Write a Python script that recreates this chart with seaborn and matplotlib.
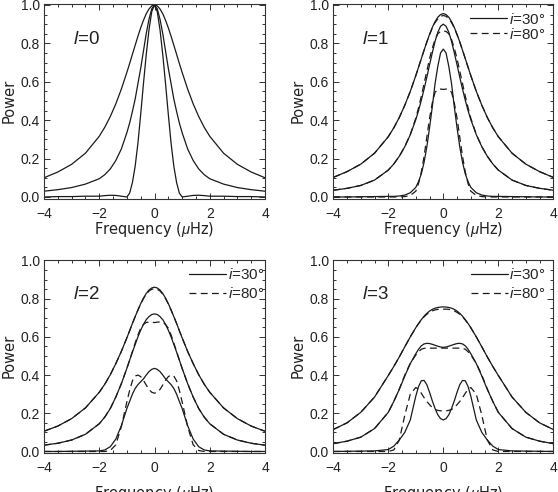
import matplotlib
matplotlib.use("Agg")
import matplotlib.pyplot as plt
import seaborn as sns
from matplotlib.ticker import MultipleLocator, FormatStrFormatter

# frequency grid (muHz) shared by every curve
freq = [-4.0, -3.5, -3.0, -2.5, -2.0, -1.8, -1.6, -1.4, -1.2, -1.0, -0.9, -0.8, -0.7, -0.6, -0.5, -0.4, -0.3, -0.2, -0.1,
        0.0, 0.1, 0.2, 0.3, 0.4, 0.5, 0.6, 0.7, 0.8, 0.9, 1.0, 1.2, 1.4, 1.6, 1.8, 2.0, 2.5, 3.0, 3.5, 4.0]

# l=0 (single curve per linewidth)
l0_wide = [0.100, 0.130, 0.170, 0.228, 0.316, 0.363, 0.419, 0.485, 0.562, 0.649, 0.695, 0.743, 0.790, 0.837, 0.881, 0.920, 0.954, 0.979, 0.995,
           1.000, 0.995, 0.979, 0.954, 0.920, 0.881, 0.837, 0.790, 0.743, 0.695, 0.649, 0.562, 0.485, 0.419, 0.363, 0.316, 0.228, 0.170, 0.130, 0.100]
l0_mid = [0.030, 0.038, 0.049, 0.067, 0.095, 0.116, 0.146, 0.190, 0.250, 0.335, 0.385, 0.445, 0.510, 0.590, 0.670, 0.760, 0.850, 0.925, 0.980,
          1.000, 0.980, 0.925, 0.850, 0.760, 0.670, 0.590, 0.510, 0.445, 0.385, 0.335, 0.250, 0.190, 0.146, 0.116, 0.095, 0.067, 0.049, 0.038, 0.030]
l0_narrow = [0.000, 0.002, 0.002, 0.004, 0.004, 0.007, 0.009, 0.008, 0.004, 0.000, 0.020, 0.075, 0.160, 0.280, 0.430, 0.590, 0.740, 0.870, 0.965,
             1.000, 0.965, 0.870, 0.740, 0.590, 0.430, 0.280, 0.160, 0.075, 0.020, 0.000, 0.004, 0.008, 0.009, 0.007, 0.004, 0.004, 0.002, 0.002, 0.000]

# l=1, i=30 (solid) and i=80 (dashed)
l1_wide_30 = [0.102, 0.132, 0.171, 0.228, 0.314, 0.360, 0.414, 0.478, 0.550, 0.632, 0.676, 0.720, 0.764, 0.807, 0.847, 0.883, 0.913, 0.936, 0.950,
              0.955, 0.950, 0.936, 0.913, 0.883, 0.847, 0.807, 0.764, 0.720, 0.676, 0.632, 0.550, 0.478, 0.414, 0.360, 0.314, 0.228, 0.171, 0.132, 0.102]
l1_wide_80 = [0.102, 0.132, 0.171, 0.228, 0.314, 0.360, 0.414, 0.478, 0.550, 0.632, 0.676, 0.720, 0.764, 0.806, 0.845, 0.880, 0.908, 0.928, 0.941,
              0.945, 0.941, 0.928, 0.908, 0.880, 0.845, 0.806, 0.764, 0.720, 0.676, 0.632, 0.550, 0.478, 0.414, 0.360, 0.314, 0.228, 0.171, 0.132, 0.102]
l1_mid_30 = [0.035, 0.045, 0.060, 0.088, 0.140, 0.172, 0.212, 0.262, 0.324, 0.403, 0.450, 0.503, 0.561, 0.623, 0.688, 0.751, 0.810, 0.858, 0.889,
             0.900, 0.889, 0.858, 0.810, 0.751, 0.688, 0.623, 0.561, 0.503, 0.450, 0.403, 0.324, 0.262, 0.212, 0.172, 0.140, 0.088, 0.060, 0.045, 0.035]
l1_mid_80 = [0.035, 0.045, 0.060, 0.088, 0.140, 0.172, 0.212, 0.262, 0.326, 0.410, 0.465, 0.525, 0.590, 0.655, 0.720, 0.775, 0.820, 0.850, 0.862,
             0.865, 0.862, 0.850, 0.820, 0.775, 0.720, 0.655, 0.590, 0.525, 0.465, 0.410, 0.326, 0.262, 0.212, 0.172, 0.140, 0.088, 0.060, 0.045, 0.035]
l1_narrow_30 = [0.000, 0.000, 0.001, 0.002, 0.003, 0.003, 0.005, 0.010, 0.022, 0.050, 0.080, 0.120, 0.180, 0.260, 0.360, 0.470, 0.590, 0.680, 0.750,
                0.770, 0.750, 0.680, 0.590, 0.470, 0.360, 0.260, 0.180, 0.120, 0.080, 0.050, 0.022, 0.010, 0.005, 0.003, 0.003, 0.002, 0.001, 0.000, 0.000]
l1_narrow_80 = [0.000, 0.000, 0.000, 0.000, 0.000, 0.000, 0.000, 0.002, 0.008, 0.030, 0.070, 0.130, 0.210, 0.310, 0.410, 0.490, 0.545, 0.560, 0.562,
                0.560, 0.562, 0.560, 0.545, 0.490, 0.410, 0.310, 0.210, 0.130, 0.070, 0.030, 0.008, 0.002, 0.000, 0.000, 0.000, 0.000, 0.000, 0.000, 0.000]

# l=2
l2_wide_30 = [0.106, 0.133, 0.172, 0.228, 0.310, 0.352, 0.402, 0.460, 0.524, 0.595, 0.632, 0.670, 0.706, 0.741, 0.774, 0.803, 0.827, 0.845, 0.856,
              0.860, 0.856, 0.845, 0.827, 0.803, 0.774, 0.741, 0.706, 0.670, 0.632, 0.595, 0.524, 0.460, 0.402, 0.352, 0.310, 0.228, 0.172, 0.133, 0.106]
l2_wide_80 = [0.106, 0.133, 0.172, 0.228, 0.310, 0.352, 0.402, 0.460, 0.524, 0.595, 0.632, 0.670, 0.706, 0.740, 0.772, 0.800, 0.823, 0.840, 0.849,
              0.852, 0.849, 0.840, 0.823, 0.800, 0.772, 0.740, 0.706, 0.670, 0.632, 0.595, 0.524, 0.460, 0.402, 0.352, 0.310, 0.228, 0.172, 0.133, 0.106]
l2_mid_30 = [0.033, 0.043, 0.060, 0.090, 0.145, 0.180, 0.225, 0.285, 0.355, 0.435, 0.478, 0.520, 0.560, 0.600, 0.635, 0.665, 0.690, 0.706, 0.717,
             0.720, 0.717, 0.706, 0.690, 0.665, 0.635, 0.600, 0.560, 0.520, 0.478, 0.435, 0.355, 0.285, 0.225, 0.180, 0.145, 0.090, 0.060, 0.043, 0.033]
l2_mid_80 = [0.033, 0.043, 0.060, 0.090, 0.145, 0.180, 0.225, 0.285, 0.355, 0.435, 0.478, 0.523, 0.568, 0.610, 0.645, 0.665, 0.675, 0.678, 0.677,
             0.675, 0.677, 0.678, 0.675, 0.665, 0.645, 0.610, 0.568, 0.523, 0.478, 0.435, 0.355, 0.285, 0.225, 0.180, 0.145, 0.090, 0.060, 0.043, 0.033]
l2_narrow_30 = [0.000, 0.000, 0.001, 0.002, 0.003, 0.008, 0.025, 0.065, 0.135, 0.225, 0.262, 0.300, 0.330, 0.350, 0.365, 0.380, 0.400, 0.418, 0.430,
                0.435, 0.430, 0.418, 0.400, 0.380, 0.365, 0.350, 0.330, 0.300, 0.262, 0.225, 0.135, 0.065, 0.025, 0.008, 0.003, 0.002, 0.001, 0.000, 0.000]
l2_narrow_80 = [0.000, 0.000, 0.000, 0.000, 0.000, 0.000, 0.005, 0.035, 0.130, 0.260, 0.320, 0.370, 0.395, 0.400, 0.392, 0.372, 0.348, 0.325, 0.310,
                0.305, 0.310, 0.325, 0.348, 0.372, 0.392, 0.400, 0.395, 0.370, 0.320, 0.260, 0.130, 0.035, 0.005, 0.000, 0.000, 0.000, 0.000, 0.000, 0.000]

# l=3
l3_wide_30 = [0.115, 0.150, 0.205, 0.285, 0.398, 0.445, 0.495, 0.548, 0.600, 0.648, 0.670, 0.690, 0.708, 0.723, 0.735, 0.744, 0.750, 0.754, 0.756,
              0.757, 0.756, 0.754, 0.750, 0.744, 0.735, 0.723, 0.708, 0.690, 0.670, 0.648, 0.600, 0.548, 0.495, 0.445, 0.398, 0.285, 0.205, 0.150, 0.115]
l3_wide_80 = [0.115, 0.150, 0.205, 0.285, 0.398, 0.445, 0.495, 0.548, 0.600, 0.648, 0.669, 0.688, 0.705, 0.718, 0.728, 0.736, 0.741, 0.744, 0.745,
              0.745, 0.745, 0.744, 0.741, 0.736, 0.728, 0.718, 0.705, 0.688, 0.669, 0.648, 0.600, 0.548, 0.495, 0.445, 0.398, 0.285, 0.205, 0.150, 0.115]
l3_mid_30 = [0.041, 0.054, 0.075, 0.120, 0.205, 0.262, 0.325, 0.395, 0.460, 0.512, 0.535, 0.553, 0.563, 0.566, 0.565, 0.561, 0.556, 0.551, 0.547,
             0.545, 0.547, 0.551, 0.556, 0.561, 0.565, 0.566, 0.563, 0.553, 0.535, 0.512, 0.460, 0.395, 0.325, 0.262, 0.205, 0.120, 0.075, 0.054, 0.041]
l3_mid_80 = [0.041, 0.054, 0.075, 0.120, 0.205, 0.262, 0.327, 0.400, 0.462, 0.505, 0.522, 0.535, 0.540, 0.541, 0.541, 0.541, 0.541, 0.541, 0.541,
             0.541, 0.541, 0.541, 0.541, 0.541, 0.541, 0.541, 0.540, 0.535, 0.522, 0.505, 0.462, 0.400, 0.327, 0.262, 0.205, 0.120, 0.075, 0.054, 0.041]
l3_narrow_30 = [0.000, 0.001, 0.002, 0.003, 0.010, 0.028, 0.060, 0.100, 0.165, 0.290, 0.340, 0.370, 0.372, 0.350, 0.310, 0.265, 0.225, 0.192, 0.172,
                0.165, 0.172, 0.192, 0.225, 0.265, 0.310, 0.350, 0.372, 0.370, 0.340, 0.290, 0.165, 0.100, 0.060, 0.028, 0.010, 0.003, 0.002, 0.001, 0.000]
l3_narrow_80 = [0.000, 0.000, 0.000, 0.000, 0.000, 0.008, 0.060, 0.190, 0.300, 0.335, 0.325, 0.305, 0.282, 0.262, 0.245, 0.230, 0.220, 0.215, 0.213,
                0.213, 0.213, 0.215, 0.220, 0.230, 0.245, 0.262, 0.282, 0.305, 0.325, 0.335, 0.300, 0.190, 0.060, 0.008, 0.000, 0.000, 0.000, 0.000, 0.000]

legend_labels = ["$i$=30°", "$i$=80°"]

panels = [
    {"l": "0", "solid": [l0_wide, l0_mid, l0_narrow], "dashed": []},
    {"l": "1", "solid": [l1_wide_30, l1_mid_30, l1_narrow_30], "dashed": [l1_wide_80, l1_mid_80, l1_narrow_80]},
    {"l": "2", "solid": [l2_wide_30, l2_mid_30, l2_narrow_30], "dashed": [l2_wide_80, l2_mid_80, l2_narrow_80]},
    {"l": "3", "solid": [l3_wide_30, l3_mid_30, l3_narrow_30], "dashed": [l3_wide_80, l3_mid_80, l3_narrow_80]},
]

sns.set_style("ticks")
plt.rcParams["font.family"] = ["Liberation Sans", "DejaVu Sans"]
plt.rcParams["mathtext.fontset"] = "custom"
plt.rcParams["mathtext.rm"] = "Liberation Sans"
plt.rcParams["mathtext.it"] = "Liberation Sans:italic"

W, H = 558, 492
fig = plt.figure(figsize=(W / 100, H / 100), dpi=100)

# axes boxes in pixels: left, top, right, bottom
boxes = [(44, 4, 265, 198.5), (333.3, 4, 553.3, 198.5), (44, 259.5, 265, 453), (333.3, 259.5, 553.3, 453)]
leg_anchor = [None, (0.962, 0.96), (0.995, 0.962), (0.965, 0.962)]
leg_spacing = [0, 0.0, 0.3, 0.3]
xlab_pad = [-0.5, -0.5, 6, 6]
line_col = "#1a1a1a"
label_font = {"family": "DejaVu Sans", "size": 10.5}

for k, (p, (l, t, r, b)) in enumerate(zip(panels, boxes)):
    ax = fig.add_axes([l / W, 1 - b / H, (r - l) / W, (b - t) / H])
    for vals in p["solid"]:
        sns.lineplot(x=freq, y=vals, ax=ax, color=line_col, lw=0.9, sort=False, estimator=None, legend=False)
    for vals in p["dashed"]:
        sns.lineplot(x=freq, y=vals, ax=ax, color=line_col, lw=0.9, ls=(0, (5.5, 3.5)), sort=False, estimator=None, legend=False)

    ax.set_xlim(-4, 4)
    ax.set_ylim(-0.008, 1.005)
    ax.xaxis.set_major_locator(MultipleLocator(2))
    ax.xaxis.set_minor_locator(MultipleLocator(0.5))
    ax.yaxis.set_major_locator(MultipleLocator(0.2))
    ax.yaxis.set_minor_locator(MultipleLocator(0.05))
    ax.yaxis.set_major_formatter(FormatStrFormatter("%.1f"))
    ax.tick_params(which="both", direction="in", top=True, right=True, color="#333333", width=0.7, labelsize=10,
                   labelcolor="#222222")
    ax.tick_params(which="major", length=4)
    ax.tick_params(which="minor", length=2)
    ax.tick_params(axis="x", pad=6)
    ax.tick_params(axis="y", pad=3)
    for s in ax.spines.values():
        s.set_color("#333333")
        s.set_linewidth(0.8)

    ax.set_xlabel("Frequency ($\\mu$Hz)", fontdict=label_font, labelpad=xlab_pad[k], color="#222222")
    ax.set_ylabel("Power", fontdict=label_font, labelpad=3, color="#222222")
    ax.text(-2.95, 0.82, "$l$=" + p["l"], fontsize=13.5, va="center", ha="left", color="#222222")

    if p["dashed"]:
        lines = ax.get_lines()
        ax.legend(handles=[lines[0], lines[3]], labels=legend_labels, loc="upper right",
                  bbox_to_anchor=leg_anchor[k], frameon=False, fontsize=11, handlelength=2.4,
                  handletextpad=0.1, borderpad=0, borderaxespad=0, labelspacing=leg_spacing[k])

fig.savefig("out.png", dpi=100)
